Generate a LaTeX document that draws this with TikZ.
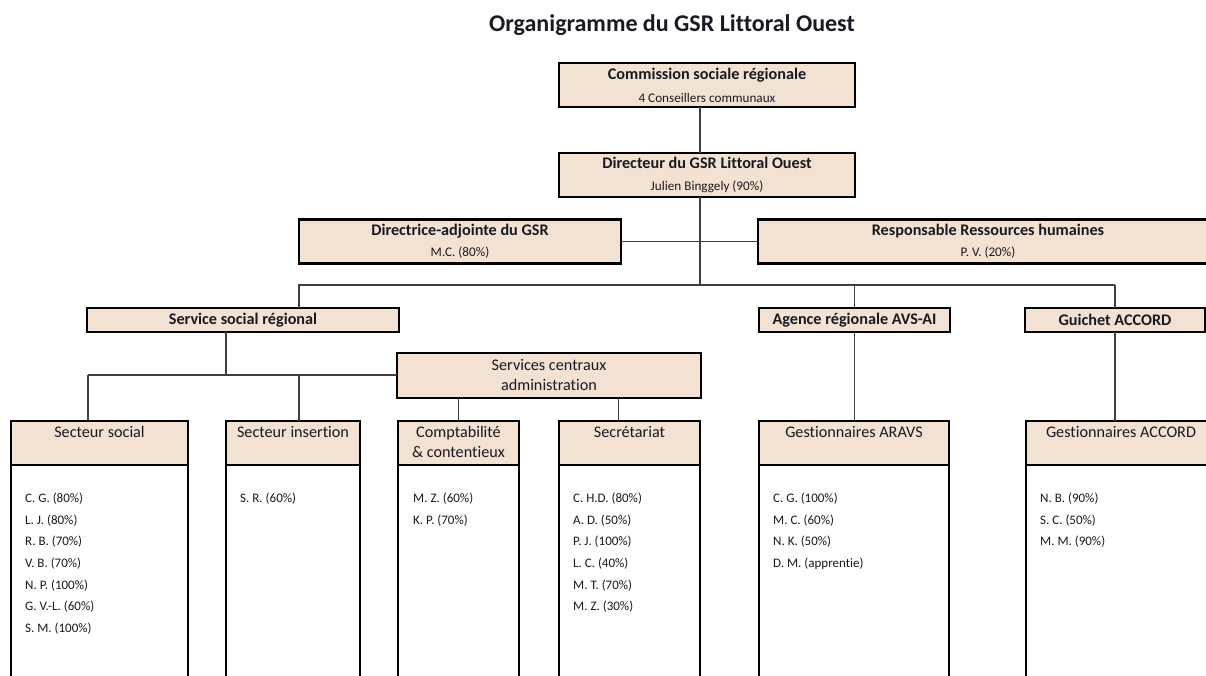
\documentclass[tikz,border=0pt]{standalone}
\usepackage{fontspec}
\setmainfont[Ligatures=NoCommon]{Carlito}
\definecolor{tanfill}{RGB}{243,226,209}
\definecolor{txt}{RGB}{25,25,35}
\begin{document}
\begin{tikzpicture}[x=1pt,y=-1pt,
  box/.style={draw=black, line width=2.6pt, fill=tanfill, inner sep=0pt, outer sep=0pt},
  body/.style={draw=black, line width=2.6pt, fill=white, inner sep=0pt, outer sep=0pt},
  conn/.style={draw=black!75, line width=1.3pt},
  ttl/.style={font=\fontsize{16.2}{19}\bfseries\selectfont, text=txt, inner sep=0pt},
  sub/.style={font=\fontsize{13.2}{15}\selectfont, text=txt, inner sep=0pt},
  hdr/.style={font=\fontsize{16.2}{20.5}\selectfont, text=txt, inner sep=0pt, align=center},
  lst/.style={font=\fontsize{13}{21.6}\selectfont, text=txt, inner sep=0pt, align=left, anchor=north west}]
\useasboundingbox (0,0) rectangle (1206,675);
\clip (0,0) rectangle (1206,675);
\fill[white] (0,0) rectangle (1206,675);
% title
\node[font=\fontsize{24}{28}\bfseries\selectfont, text=txt, inner sep=0pt] (title) at (672,25) {Organigramme du GSR Littoral Ouest};
% upper boxes
\node[box, minimum width=296pt, minimum height=44pt] (comm) at (707,85) {};
\node[ttl] (commt) at (707,75) {Commission sociale régionale};
\node[sub] (comms) at (707,98) {4 Conseillers communaux};
\node[box, minimum width=296pt, minimum height=44pt] (dir) at (707,175) {};
\node[ttl] (dirt) at (707,163) {Directeur du GSR Littoral Ouest};
\node[sub] (dirs) at (707,187) {Julien Binggely (90\%)};
\node[box, minimum width=322pt, minimum height=44pt] (adj) at (460,241.5) {};
\node[ttl] (adjt) at (460,231) {Directrice-adjointe du GSR};
\node[sub] (adjs) at (460,253) {M.C. (80\%)};
\node[box, minimum width=460pt, minimum height=44pt] (rh) at (988,241.5) {};
\node[ttl] (rht) at (988,231) {Responsable Ressources humaines};
\node[sub] (rhs) at (988,253) {P. V. (20\%)};
% second level
\node[box, minimum width=312pt, minimum height=24pt] (ssr) at (243,320) {};
\node[ttl] (ssrt) at (243,320) {Service social régional};
\node[box, minimum width=191pt, minimum height=24pt] (avs) at (854.5,320) {};
\node[ttl] (avst) at (854.5,320) {Agence régionale AVS-AI};
\node[box, minimum width=180pt, minimum height=24pt] (gui) at (1115,320) {};
\node[ttl] (guit) at (1115,320) {Guichet ACCORD};
\node[box, minimum width=304pt, minimum height=45pt] (sca) at (549,375.5) {};
\node[hdr] (scat) at (549,375) {Services centraux\\administration};
% bottom boxes: header + body
\node[body, minimum width=177pt, minimum height=230pt, anchor=north west] (b1) at (11,465) {};
\node[box, minimum width=177pt, minimum height=44pt, anchor=north west] (h1) at (11,421) {};
\node[hdr] (h1t) at (99.5,432) {Secteur social};
\node[body, minimum width=134pt, minimum height=230pt, anchor=north west] (b2) at (226,465) {};
\node[box, minimum width=134pt, minimum height=44pt, anchor=north west] (h2) at (226,421) {};
\node[hdr] (h2t) at (293,432) {Secteur insertion};
\node[body, minimum width=121pt, minimum height=230pt, anchor=north west] (b3) at (398,465) {};
\node[box, minimum width=121pt, minimum height=44pt, anchor=north west] (h3) at (398,421) {};
\node[hdr] (h3t) at (458.5,442) {Comptabilité\\\& contentieux};
\node[body, minimum width=141pt, minimum height=230pt, anchor=north west] (b4) at (559,465) {};
\node[box, minimum width=141pt, minimum height=44pt, anchor=north west] (h4) at (559,421) {};
\node[hdr] (h4t) at (629.5,432) {Secrétariat};
\node[body, minimum width=190pt, minimum height=230pt, anchor=north west] (b5) at (759,465) {};
\node[box, minimum width=190pt, minimum height=44pt, anchor=north west] (h5) at (759,421) {};
\node[hdr] (h5t) at (854,432) {Gestionnaires ARAVS};
\node[body, minimum width=190pt, minimum height=230pt, anchor=north west] (b6) at (1026,465) {};
\node[box, minimum width=190pt, minimum height=44pt, anchor=north west] (h6) at (1026,421) {};
\node[hdr] (h6t) at (1121,432) {Gestionnaires ACCORD};
% lists
\node[lst] (l1) at (25,493) {C. G. (80\%)\\L. J. (80\%)\\R. B. (70\%)\\V. B. (70\%)\\N. P. (100\%)\\G. V.-L. (60\%)\\S. M. (100\%)};
\node[lst] (l2) at (240,493) {S. R. (60\%)};
\node[lst] (l3) at (413,493) {M. Z. (60\%)\\K. P. (70\%)};
\node[lst] (l4) at (573,493) {C. H.D. (80\%)\\A. D. (50\%)\\P. J. (100\%)\\L. C. (40\%)\\M. T. (70\%)\\M. Z. (30\%)};
\node[lst] (l5) at (773,493) {C. G. (100\%)\\M. C. (60\%)\\N. K. (50\%)\\D. M. (apprentie)};
\node[lst] (l6) at (1040,493) {N. B. (90\%)\\S. C. (50\%)\\M. M. (90\%)};
% connector coordinates
\coordinate (spine) at (700,0);
\coordinate (bus) at (0,285);
\coordinate (sbus) at (0,375);
\coordinate (xssr) at (226,0);
\coordinate (xbl) at (299,0);
% connectors
\draw[conn] (comm.south -| spine) -- (dir.north -| spine);
\draw[conn] (dir.south -| spine) -- (bus -| spine);
\draw[conn] (adj.east) -- (rh.west);
\draw[conn] (ssr.north -| xbl) -- (bus -| xbl) -- (bus -| gui);
\draw[conn] (bus -| avs) -- (avs.north);
\draw[conn] (bus -| gui) -- (gui.north);
\draw[conn] (ssr.south -| xssr) -- (sbus -| xssr);
\draw[conn] (sbus -| h1.west) ++(77,0) coordinate (sl) -- (sca.west |- sbus);
\draw[conn] (sl) -- (h1.north -| sl);
\draw[conn] (sbus -| h2.west) ++(73,0) coordinate (sm) -- (h2.north -| sm);
\draw[conn] (sca.south -| h3) -- (h3.north);
\draw[conn] (sca.south -| h4) ++(-11,0) coordinate (sr) -- (h4.north -| sr);
\draw[conn] (avs.south) -- (h5.north -| avs);
\draw[conn] (gui.south) -- (h6.north -| gui);
\end{tikzpicture}
\end{document}
